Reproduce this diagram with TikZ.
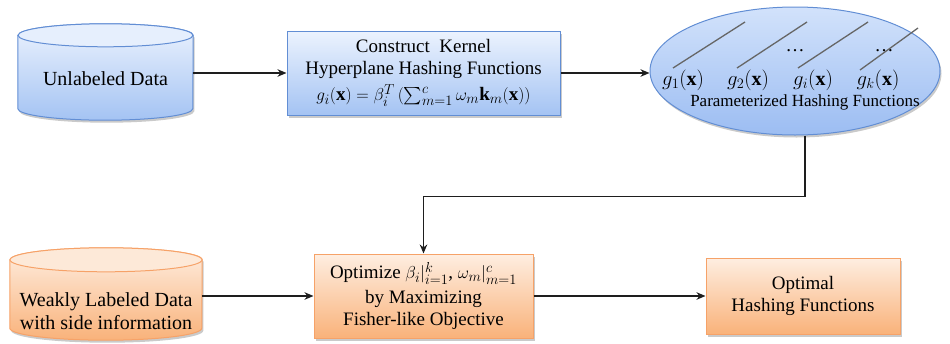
\documentclass[tikz,border=0pt]{standalone}
\usepackage{amsmath}
\usepackage{fontspec}
\setmainfont{Liberation Serif}
\usetikzlibrary{arrows.meta,shapes.geometric,shadows,calc}

\definecolor{bluedge}{RGB}{98,142,212}
\definecolor{bluetop}{RGB}{236,243,254}
\definecolor{bluebot}{RGB}{164,195,243}
\definecolor{bluecap}{RGB}{230,239,253}
\definecolor{elltop}{RGB}{210,226,251}
\definecolor{ellbot}{RGB}{156,189,242}
\definecolor{oredge}{RGB}{246,162,104}
\definecolor{ortop}{RGB}{254,238,225}
\definecolor{orbot}{RGB}{249,178,122}
\definecolor{orcap}{RGB}{253,233,216}
\definecolor{flowink}{RGB}{30,30,30}

% database cylinder drawn around an (invisible) frame node
% #1 frame node, #2 half width, #3 cap radius, #4 style prefix
\newcommand\datacyl[4]{%
  \path[#4] ($(#1.north west)+(0,#3)$) -- ($(#1.south west)-(0,#3)$)
    arc[start angle=180,end angle=360,x radius=#2pt,y radius=#3pt]
    -- ($(#1.north east)+(0,#3)$)
    arc[start angle=0,end angle=180,x radius=#2pt,y radius=#3pt] -- cycle;
  \path[#4 cap] ($(#1.north)+(0,#3)$) ellipse[x radius=#2pt,y radius=#3pt];
}

\tikzset{
  frame/.style={inner sep=0pt, draw=none},
  soft shadow/.style={drop shadow={shadow xshift=1.5pt, shadow yshift=-2.5pt, opacity=.35, fill=black!60}},
  bluecyl/.style={draw=bluedge, line width=1pt, top color=bluetop, bottom color=bluebot, soft shadow},
  bluecyl cap/.style={draw=bluedge, line width=1pt, fill=bluecap},
  orcyl/.style={draw=oredge, line width=1pt, top color=ortop, bottom color=orbot, soft shadow},
  orcyl cap/.style={draw=oredge, line width=1pt, fill=orcap},
  bluebox/.style={rectangle, draw=bluedge, line width=1pt, top color=bluetop, bottom color=bluebot, soft shadow, inner sep=0pt, align=center},
  orbox/.style={rectangle, draw=oredge, line width=1pt, top color=ortop, bottom color=orbot, soft shadow, inner sep=0pt, align=center},
  cyltext/.style={align=center, font=\fontsize{20}{23.5}\selectfont},
  hashline/.style={draw=black!60, line width=1.3pt},
  flow/.style={draw=flowink, line width=1.4pt, -{Stealth[length=9pt,width=7.5pt]}}
}

\begin{document}
\begin{tikzpicture}[x=1pt, y=-1pt, font=\fontsize{19}{22.5}\selectfont]
\useasboundingbox (0,0) rectangle (950,343);

% unlabeled data store
\node[frame, minimum width=175pt, minimum height=96pt] (unl) at (105.5,72) {};
\datacyl{unl}{87.5}{11.5}{bluecyl}
\node[cyltext] (unltext) at (105.5,79) {Unlabeled Data};

% kernel hashing construction
\node[bluebox, minimum width=273pt, minimum height=84pt] (kern) at (423.5,73)
  {Construct\ \ Kernel\\[-1pt]Hyperplane Hashing Functions\\[4pt]
   $g_i(\mathbf{x})=\beta_i^T\,(\sum_{m=1}^{c}\omega_m\mathbf{k}_m(\mathbf{x}))$};

% parameterized hashing functions
\node[ellipse, draw=bluedge, line width=1pt, top color=elltop, bottom color=ellbot,
      minimum width=290pt, minimum height=128pt, inner sep=0pt, soft shadow] (ell) at (795,71) {};
\draw[hashline] (673,68) -- (745,22);
\draw[hashline] (737,68) -- (807,22);
\draw[hashline] (798,68) -- (868,22);
\draw[hashline] (860,70) -- (918,28);
\node (dots1) at (795,51) {\dots};
\node (dots2) at (884,51) {\dots};
\node[font=\fontsize{20}{24}\selectfont] (g1) at (683,80) {$g_1(\mathbf{x})$};
\node[font=\fontsize{20}{24}\selectfont] (g2) at (748,80) {$g_2(\mathbf{x})$};
\node[font=\fontsize{20}{24}\selectfont] (gi) at (813,80) {$g_i(\mathbf{x})$};
\node[font=\fontsize{20}{24}\selectfont] (gk) at (878,80) {$g_k(\mathbf{x})$};
\node[font=\fontsize{17}{20}\selectfont] (phf) at (805,102) {Parameterized Hashing Functions};

% weakly labeled data store
\node[frame, minimum width=192pt, minimum height=92pt] (wk) at (106,294) {};
\datacyl{wk}{96}{12}{orcyl}
\node[cyltext] (wktext) at (106,311) {Weakly Labeled Data\\with side information};

% optimization and result
\node[orbox, minimum width=219pt, minimum height=84pt] (opt) at (423.5,296)
  {Optimize $\beta_i|_{i=1}^{k}$, $\omega_m|_{m=1}^{c}$\\[2pt]by Maximizing\\Fisher-like Objective};
\node[orbox, minimum width=194pt, minimum height=76pt] (res) at (803,296)
  {Optimal\\Hashing Functions};

% connectors
\draw[flow] (unl.east |- kern.west) -- (kern.west);
\draw[flow] (kern.east) -- (kern.east -| ell.west);
\draw[flow] ([xshift=10pt]ell.south) -- ++(0,61) -| (opt.north);
\draw[flow] (wk.east |- opt.west) -- (opt.west);
\draw[flow] (opt.east) -- (res.west);
\end{tikzpicture}
\end{document}
